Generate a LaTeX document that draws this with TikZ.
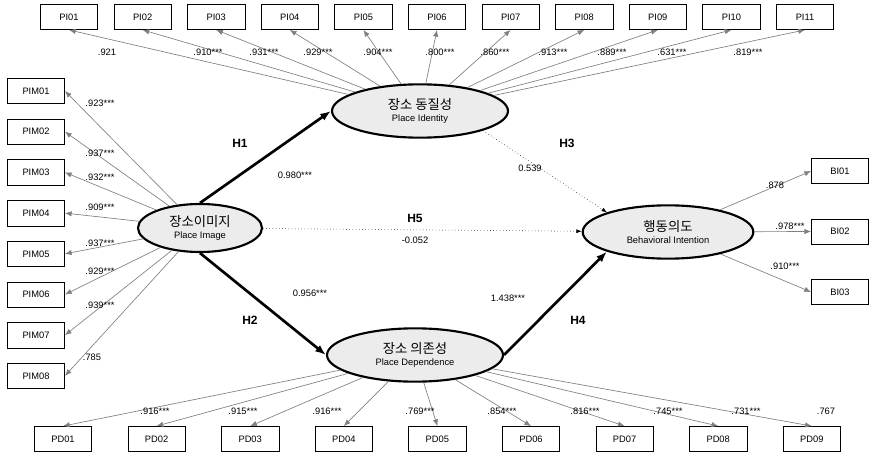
\documentclass[tikz,border=0pt]{standalone}
\usepackage{fontspec}
\setmainfont{Liberation Sans}
\newfontfamily\kofont{Noto Sans CJK KR}
\usetikzlibrary{arrows.meta,positioning,shapes.geometric}
\tikzset{
  ind/.style={draw=black,fill=white,minimum width=43pt,minimum height=19pt,inner sep=1pt,font=\scriptsize},
  lat/.style={draw=black,ellipse,line width=1.6pt,fill=gray!15,inner sep=0pt,align=center},
  load/.style={draw=gray,-{Latex[length=5pt,width=4pt]},line width=0.5pt},
  path/.style={line width=2pt,-{Latex[length=8pt,width=6pt]}},
  weak/.style={dotted,-{Latex[length=4pt,width=3pt]}},
  val/.style={font=\scriptsize},
  hyp/.style={font=\small\bfseries}
}
\begin{document}
\begin{tikzpicture}[x=0.75pt,y=-0.75pt]
\useasboundingbox (0,0) rectangle (883,467);
% latent variables
\node[lat,minimum width=132pt,minimum height=40pt] (pid) at (420,111) {{\kofont 장소 동질성}\\[-3pt]{\scriptsize Place Identity}};
\node[lat,minimum width=93pt,minimum height=36pt] (pim) at (200,228) {{\kofont 장소이미지}\\[-3pt]{\scriptsize Place Image}};
\node[lat,minimum width=132pt,minimum height=40pt] (pdp) at (415,355) {{\kofont 장소 의존성}\\[-3pt]{\scriptsize Place Dependence}};
\node[lat,minimum width=128pt,minimum height=40pt] (bhi) at (668,232) {{\kofont 행동의도}\\[-3pt]{\scriptsize Behavioral Intention}};
% indicators
\foreach \i/\n in {1/01,2/02,3/03,4/04,5/05,6/06,7/07,8/08,9/09,10/10,11/11}{
  \node[ind] (pi\i) at ({69+73.6*(\i-1)},17) {PI\n};
  \draw[load] (pid) -- (pi\i.south);
}
\foreach \i in {1,...,8}{
  \node[ind] (pm\i) at (36,{91+40.7*(\i-1)}) {PIM0\i};
  \draw[load] (pim) -- (pm\i.east);
}
\foreach \i in {1,...,9}{
  \node[ind] (pd\i) at ({63+93.6*(\i-1)},439) {PD0\i};
  \draw[load] (pdp) -- (pd\i.north);
}
\foreach \i in {1,2,3}{
  \node[ind] (bi\i) at (840,{171+60.5*(\i-1)}) {BI0\i};
  \draw[load] (bhi) -- (bi\i.west);
}
% structural paths
\draw[path] (pim.north) -- (pid.west);
\draw[path] (pim.south) -- (pdp.west);
\draw[path] (pdp.east) -- (bhi.south west);
\draw[weak] (pid.south east) -- (bhi.north west);
\draw[weak] (pim) -- (bhi);
% loadings
\foreach \x/\t in {107/.921,208/.910***,264/.931***,318/.929***,378/.904***,440/.800***,495/.860***,553/.913***,612/.889***,672/.631***,748/.819***}
  \node[val] at (\x,52) {\t};
\foreach \y/\t in {103/.923***,153/.937***,177/.932***,207/.909***,243/.937***,271/.929***,305/.939***}
  \node[val] at (100,\y) {\t};
\node[val] at (92,357) {.785};
\foreach \x/\t in {155/.916***,243/.915***,327/.916***,420/.769***,502/.854***,585/.816***,668/.745***,746/.731***}
  \node[val] at (\x,411) {\t};
\node[val] at (826,411) {.767};
\node[val] at (775,185) {.878};
\node[val] at (790,226) {.978***};
\node[val] at (785,266) {.910***};
% path coefficients
\node[hyp] at (240,143) {H1};
\node[val] at (295,175) {0.980***};
\node[hyp] at (567,143) {H3};
\node[val] at (530,168) {0.539};
\node[hyp] at (415,218) {H5};
\node[val] at (415,240) {-0.052};
\node[hyp] at (250,320) {H2};
\node[val] at (310,293) {0.956***};
\node[hyp] at (578,320) {H4};
\node[val] at (508,298) {1.438***};
\end{tikzpicture}
\end{document}
